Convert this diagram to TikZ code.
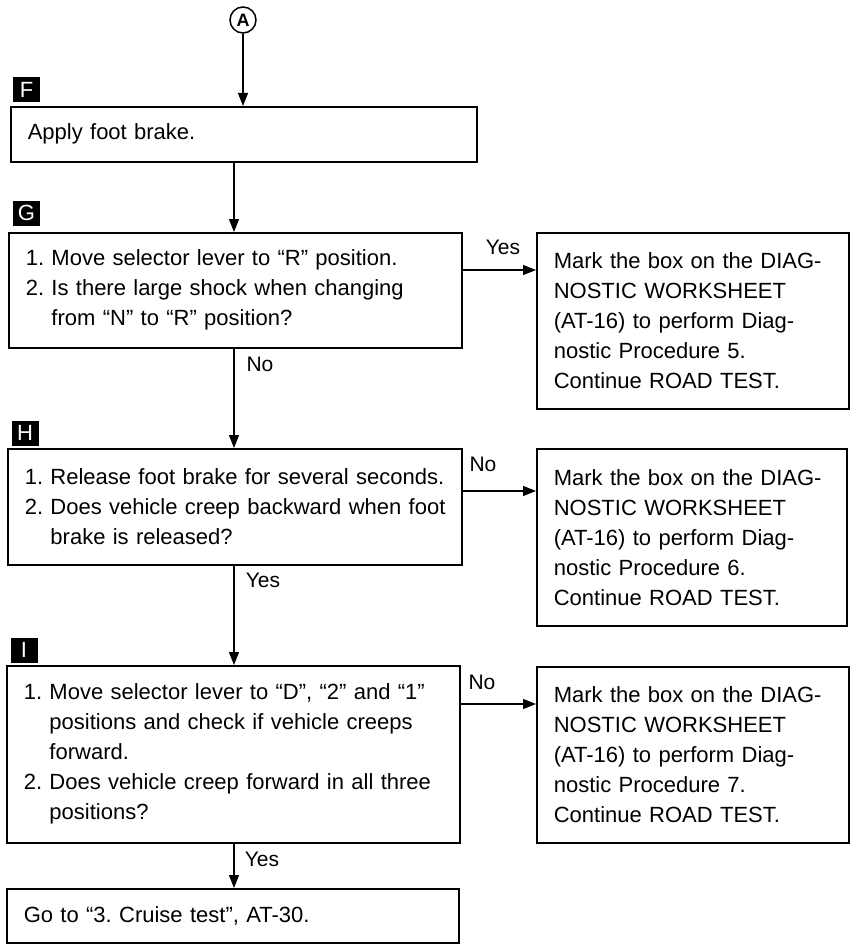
\documentclass[tikz,border=0pt]{standalone}
\usepackage{fontspec}
\setmainfont{Liberation Sans}
\usetikzlibrary{arrows.meta}
\newcommand{\boxfont}{\fontsize{22}{30}\selectfont\frenchspacing}
\begin{document}
\begin{tikzpicture}[x=1pt,y=-1pt,
  box/.style={draw,line width=1.6pt,rectangle,anchor=north west,inner xsep=17pt,inner ysep=0pt,align=left,font=\boxfont},
  tag/.style={fill=black,text=white,minimum width=27pt,minimum height=25pt,inner sep=0pt,font=\fontsize{22}{22}\selectfont},
  arr/.style={line width=1.1pt,-{Triangle[length=13pt,width=10pt]}},
  lbl/.style={font=\fontsize{21}{21}\selectfont,inner sep=0pt}]
\useasboundingbox (0,0) rectangle (850,944);

\node[draw,circle,line width=1.5pt,minimum size=26pt,inner sep=0pt,font=\bfseries\fontsize{18}{18}\selectfont] (A) at (243,20) {A};

\node[tag] (tF) at (26.5,90) {F};
\node[box,text width=432pt,minimum height=55pt] (F) at (10,106) {Apply foot brake.};

\node[tag] (tG) at (26.5,213) {G};
\node[box,text width=419pt,minimum height=115pt] (G) at (8,232) {1. Move selector lever to “R” position.\\2. Is there large shock when changing\\\phantom{2. }from “N” to “R” position?};

\node[tag] (tH) at (25,433) {H};
\node[box,text width=420pt,minimum height=116pt] (H) at (7,448) {\mbox{1. Release foot brake for several seconds.}\\\mbox{2. Does vehicle creep backward when foot}\\\phantom{2. }brake is released?};

\node[tag] (tI) at (24,650) {I};
\node[box,text width=419pt,minimum height=177pt] (I) at (6,665) {\mbox{1. Move selector lever to “D”, “2” and “1”}\\\phantom{1. }positions and check if vehicle creeps\\\phantom{1. }forward.\\\mbox{2. Does vehicle creep forward in all three}\\\phantom{2. }positions?};

\node[box,text width=418pt,minimum height=54pt] (E) at (6,888) {Go to “3. Cruise test”, AT-30.};

\node[box,text width=278pt,minimum height=176pt] (R1) at (536,232) {Mark the box on the DIAG-\\NOSTIC WORKSHEET\\(AT-16) to perform Diag-\\nostic Procedure 5.\\Continue ROAD TEST.};
\node[box,text width=276pt,minimum height=177pt] (R2) at (536,448) {Mark the box on the DIAG-\\NOSTIC WORKSHEET\\(AT-16) to perform Diag-\\nostic Procedure 6.\\Continue ROAD TEST.};
\node[box,text width=278pt,minimum height=176pt] (R3) at (536,666) {Mark the box on the DIAG-\\NOSTIC WORKSHEET\\(AT-16) to perform Diag-\\nostic Procedure 7.\\Continue ROAD TEST.};

\coordinate (sp) at (234,0);
\draw[arr] (A) -- (A |- F.north);
\draw[arr] (sp |- F.south) -- (sp |- G.north);
\draw[arr] (sp |- G.south) -- (sp |- H.north);
\draw[arr] (sp |- H.south) -- (sp |- I.north);
\draw[arr] (sp |- I.south) -- (sp |- E.north);

\coordinate (yG) at (0,270);
\coordinate (yH) at (0,491);
\coordinate (yI) at (0,704);
\draw[arr] (G.east |- yG) -- (R1.west |- yG);
\draw[arr] (H.east |- yH) -- (R2.west |- yH);
\draw[arr] (I.east |- yI) -- (R3.west |- yI);

\node[lbl] (lG1) at (503,247) {Yes};
\node[lbl] (lG2) at (260,364) {No};
\node[lbl] (lH1) at (483,464) {No};
\node[lbl] (lH2) at (263,580) {Yes};
\node[lbl] (lI1) at (482,682) {No};
\node[lbl] (lI2) at (262,859) {Yes};
\end{tikzpicture}
\end{document}
